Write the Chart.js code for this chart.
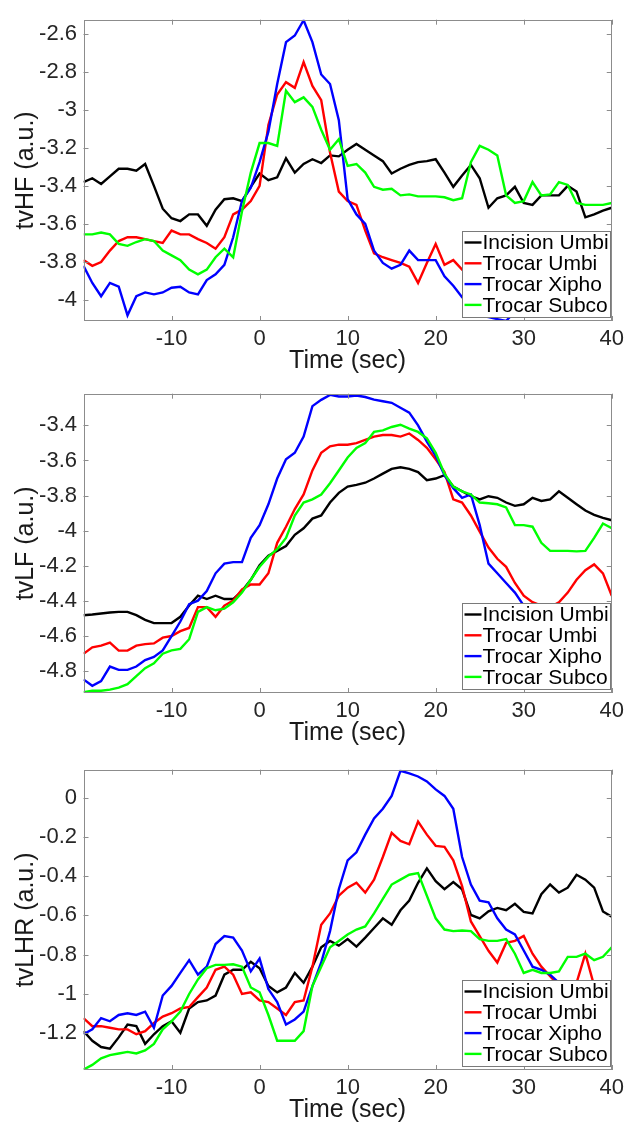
<!DOCTYPE html>
<html>
<head>
<meta charset="utf-8">
<script src="https://cdn.jsdelivr.net/npm/chart.js@4.4.0/dist/chart.umd.min.js"></script>
<style>
  html, body { margin: 0; padding: 0; background: #ffffff; }
  body { width: 629px; height: 1123px; position: relative; overflow: hidden; }
  canvas { position: absolute; left: 0; }
</style>
</head>
<body>
<canvas id="hfChart" width="629" height="376" style="top:0px"></canvas>
<canvas id="lfChart" width="629" height="374" style="top:374px"></canvas>
<canvas id="lhrChart" width="629" height="375" style="top:750px"></canvas>
<script>
// time axis (sec)
const times = [-20, -19, -18, -17, -16, -15, -14, -13, -12, -11, -10, -9, -8, -7, -6, -5, -4, -3, -2, -1,
  0, 1, 2, 3, 4, 5, 6, 7, 8, 9, 10, 11, 12, 13, 14, 15, 16, 17, 18, 19, 20, 21, 22, 23, 24, 25, 26, 27, 28, 29,
  30, 31, 32, 33, 34, 35, 36, 37, 38, 39, 40];
const xTicks = [-10, 0, 10, 20, 30, 40];
const seriesNames = ['Incision Umbi', 'Trocar Umbi', 'Trocar Xipho', 'Trocar Subco'];
const seriesColors = ['#000000', '#ff0000', '#0000ff', '#00ff00'];

// tvHF
const hfIncision = [-3.38, -3.36, -3.39, -3.35, -3.31, -3.31, -3.32, -3.285, -3.40, -3.52, -3.57, -3.585, -3.55, -3.55, -3.61, -3.525, -3.47, -3.465, -3.48, -3.405,
  -3.335, -3.37, -3.355, -3.255, -3.33, -3.285, -3.26, -3.28, -3.24, -3.245, -3.21, -3.18, -3.21, -3.24, -3.27, -3.335, -3.31, -3.29, -3.275, -3.27,
  -3.26, -3.33, -3.405, -3.345, -3.29, -3.36, -3.515, -3.465, -3.45, -3.405, -3.49, -3.50, -3.45, -3.45, -3.45, -3.40, -3.43, -3.565, -3.55, -3.53, -3.515];
const hfUmbi = [-3.79, -3.82, -3.80, -3.74, -3.69, -3.67, -3.67, -3.68, -3.69, -3.70, -3.635, -3.655, -3.655, -3.68, -3.70, -3.73, -3.67, -3.55, -3.525, -3.48,
  -3.40, -3.08, -2.92, -2.855, -2.885, -2.75, -2.875, -2.95, -3.225, -3.43, -3.48, -3.50, -3.635, -3.755, -3.775, -3.79, -3.805, -3.825, -3.91, -3.805,
  -3.705, -3.815, -3.79, -3.84, -3.88, -3.92, -3.95, -3.98, -4.00, -3.97, -3.93, -3.90, -3.92, -3.88, -3.85, -3.82, -3.80, -3.78, -3.75, -3.72, -3.72];
const hfXipho = [-3.82, -3.91, -3.98, -3.91, -3.93, -4.08, -3.98, -3.96, -3.97, -3.96, -3.935, -3.93, -3.96, -3.97, -3.895, -3.865, -3.815, -3.67, -3.48, -3.41,
  -3.275, -3.115, -2.865, -2.645, -2.61, -2.53, -2.645, -2.815, -2.865, -3.055, -3.47, -3.55, -3.60, -3.74, -3.805, -3.835, -3.815, -3.74, -3.79, -3.79,
  -3.79, -3.875, -3.925, -3.985, -4.03, -4.08, -4.09, -4.10, -4.11, -4.06, -4.00, -3.96, -3.93, -3.90, -3.88, -3.87, -3.86, -3.85, -3.83, -3.82, -3.94];
const hfSubco = [-3.655, -3.655, -3.645, -3.655, -3.705, -3.715, -3.695, -3.68, -3.69, -3.74, -3.765, -3.79, -3.84, -3.865, -3.84, -3.775, -3.73, -3.775, -3.535, -3.33,
  -3.175, -3.175, -3.19, -2.90, -2.96, -2.935, -2.985, -3.105, -3.21, -3.155, -3.295, -3.285, -3.33, -3.405, -3.42, -3.415, -3.45, -3.445, -3.455, -3.455,
  -3.455, -3.46, -3.475, -3.465, -3.275, -3.19, -3.21, -3.24, -3.45, -3.49, -3.48, -3.38, -3.45, -3.445, -3.38, -3.395, -3.49, -3.50, -3.50, -3.50, -3.49];

// tvLF
const lfIncision = [-4.483, -4.479, -4.473, -4.468, -4.464, -4.464, -4.483, -4.51, -4.528, -4.528, -4.528, -4.492, -4.428, -4.372, -4.391, -4.372, -4.391, -4.391, -4.345, -4.281,
  -4.198, -4.143, -4.116, -4.088, -4.024, -3.987, -3.932, -3.914, -3.84, -3.785, -3.749, -3.739, -3.727, -3.703, -3.675, -3.648, -3.639, -3.648, -3.666, -3.712,
  -3.703, -3.684, -3.749, -3.776, -3.804, -3.822, -3.804, -3.813, -3.84, -3.859, -3.85, -3.813, -3.831, -3.822, -3.776, -3.813, -3.85, -3.886, -3.91, -3.928, -3.941];
const lfUmbi = [-4.703, -4.666, -4.657, -4.639, -4.685, -4.685, -4.657, -4.648, -4.644, -4.611, -4.602, -4.574, -4.556, -4.437, -4.437, -4.492, -4.428, -4.40, -4.336, -4.308,
  -4.308, -4.244, -4.07, -3.978, -3.877, -3.794, -3.657, -3.556, -3.519, -3.51, -3.51, -3.501, -3.483, -3.464, -3.455, -3.455, -3.464, -3.446, -3.483, -3.528,
  -3.593, -3.666, -3.822, -3.84, -3.914, -4.006, -4.097, -4.161, -4.207, -4.299, -4.372, -4.409, -4.428, -4.437, -4.409, -4.354, -4.281, -4.226, -4.193, -4.244, -4.372];
const lfXipho = [-4.85, -4.886, -4.859, -4.776, -4.795, -4.795, -4.776, -4.739, -4.721, -4.684, -4.602, -4.519, -4.42, -4.40, -4.345, -4.244, -4.189, -4.18, -4.18, -4.042,
  -3.969, -3.85, -3.703, -3.593, -3.556, -3.464, -3.29, -3.254, -3.226, -3.235, -3.235, -3.229, -3.238, -3.253, -3.262, -3.271, -3.299, -3.327, -3.40, -3.492,
  -3.574, -3.684, -3.758, -3.813, -3.794, -3.969, -4.189, -4.244, -4.299, -4.354, -4.428, -4.48, -4.52, -4.55, -4.57, -4.58, -4.56, -4.53, -4.49, -4.44, -4.44];
const lfSubco = [-4.923, -4.914, -4.914, -4.908, -4.896, -4.877, -4.831, -4.785, -4.758, -4.703, -4.684, -4.675, -4.62, -4.464, -4.437, -4.455, -4.446, -4.409, -4.354, -4.281,
  -4.207, -4.149, -4.106, -4.042, -3.914, -3.84, -3.822, -3.794, -3.73, -3.657, -3.583, -3.528, -3.501, -3.437, -3.428, -3.409, -3.396, -3.418, -3.437, -3.473,
  -3.556, -3.675, -3.749, -3.776, -3.794, -3.84, -3.844, -3.85, -3.868, -3.969, -3.969, -3.978, -4.07, -4.116, -4.116, -4.116, -4.119, -4.116, -4.042, -3.96, -3.987];

// tvLHR
const lhrIncision = [-1.189, -1.238, -1.27, -1.279, -1.221, -1.156, -1.164, -1.254, -1.205, -1.164, -1.139, -1.197, -1.074, -1.041, -1.033, -1.008, -0.902, -0.877, -0.877, -0.836,
  -0.869, -0.959, -0.992, -0.967, -0.893, -0.943, -0.861, -0.762, -0.73, -0.754, -0.721, -0.759, -0.713, -0.664, -0.615, -0.648, -0.574, -0.525, -0.434, -0.361,
  -0.426, -0.467, -0.43, -0.467, -0.598, -0.615, -0.579, -0.562, -0.574, -0.541, -0.582, -0.59, -0.492, -0.443, -0.484, -0.459, -0.393, -0.418, -0.459, -0.58, -0.607];
const lhrUmbi = [-1.123, -1.164, -1.164, -1.172, -1.18, -1.18, -1.205, -1.189, -1.148, -1.115, -1.098, -1.074, -1.066, -1.016, -0.967, -0.877, -0.861, -0.902, -1.00, -0.992,
  -1.033, -1.041, -1.074, -1.107, -1.041, -1.033, -0.861, -0.648, -0.59, -0.50, -0.459, -0.434, -0.484, -0.418, -0.303, -0.18, -0.221, -0.238, -0.123, -0.189,
  -0.246, -0.251, -0.32, -0.451, -0.631, -0.705, -0.78, -0.84, -0.74, -0.73, -0.705, -0.795, -0.861, -0.91, -0.959, -0.992, -0.943, -0.795, -0.959, -1.00, -1.107];
const lhrXipho = [-1.205, -1.18, -1.123, -1.139, -1.107, -1.098, -1.107, -1.09, -1.172, -1.008, -0.959, -0.893, -0.828, -0.902, -0.861, -0.746, -0.705, -0.713, -0.779, -0.885,
  -0.82, -0.975, -1.041, -1.156, -1.13, -1.09, -0.96, -0.84, -0.68, -0.467, -0.32, -0.279, -0.189, -0.107, -0.057, 0.008, 0.136, 0.123, 0.107, 0.082,
  0.041, 0.008, -0.057, -0.303, -0.443, -0.525, -0.533, -0.615, -0.672, -0.697, -0.779, -0.861, -0.877, -0.902, -0.943, -0.98, -1.03, -1.08, -1.14, -1.20, -1.24];
const lhrSubco = [-1.385, -1.361, -1.328, -1.311, -1.303, -1.295, -1.303, -1.287, -1.254, -1.18, -1.139, -1.09, -1.00, -0.926, -0.869, -0.852, -0.852, -0.849, -0.861, -0.967,
  -0.992, -1.107, -1.238, -1.238, -1.238, -1.189, -0.959, -0.861, -0.762, -0.73, -0.697, -0.672, -0.656, -0.59, -0.516, -0.443, -0.418, -0.393, -0.385, -0.50,
  -0.615, -0.672, -0.68, -0.677, -0.68, -0.721, -0.73, -0.73, -0.721, -0.795, -0.893, -0.877, -0.893, -0.893, -0.885, -0.811, -0.811, -0.795, -0.828, -0.811, -0.762];

const FONT = '"Liberation Sans", Arial, Helvetica, sans-serif';

// box, inward ticks and legend drawn like a MATLAB axes
const matlabAxes = {
  id: 'matlabAxes',
  afterDraw(chart) {
    const { ctx, chartArea: a, scales: { x, y } } = chart;
    ctx.save();
    ctx.strokeStyle = '#8c8c8c';
    ctx.lineWidth = 1;
    ctx.beginPath();
    xTicks.forEach(v => {
      const px = Math.round(x.getPixelForValue(v)) + 0.5;
      ctx.moveTo(px, a.bottom); ctx.lineTo(px, a.bottom - 5);
      ctx.moveTo(px, a.top); ctx.lineTo(px, a.top + 5);
    });
    y.ticks.forEach(t => {
      const py = Math.round(y.getPixelForValue(t.value)) + 0.5;
      ctx.moveTo(a.left, py); ctx.lineTo(a.left + 5, py);
      ctx.moveTo(a.right, py); ctx.lineTo(a.right - 5, py);
    });
    ctx.stroke();
    ctx.strokeRect(Math.round(a.left) + 0.5, Math.round(a.top) + 0.5,
      Math.round(a.right - a.left) - 1, Math.round(a.bottom - a.top) - 1);

    // legend
    const lx = 462.5, lw = 148, lh = 86;
    const ly = Math.round(a.bottom) - 4 - lh + 0.5;
    ctx.fillStyle = '#ffffff';
    ctx.fillRect(lx, ly, lw, lh);
    ctx.strokeStyle = '#7a7a7a';
    ctx.strokeRect(lx, ly, lw, lh);
    ctx.font = '21px ' + FONT;
    ctx.textBaseline = 'middle';
    ctx.textAlign = 'left';
    seriesNames.forEach((name, i) => {
      const cy = ly + 11 + i * 20.8;
      ctx.strokeStyle = seriesColors[i];
      ctx.lineWidth = 2.4;
      ctx.beginPath();
      ctx.moveTo(lx + 2, cy); ctx.lineTo(lx + 19, cy);
      ctx.stroke();
      ctx.fillStyle = '#000000';
      ctx.fillText(name, lx + 20, cy + 1);
    });
    ctx.restore();
  }
};

function makePanel(id, yTitle, seriesList, yMin, yMax, padTop) {
  const datasets = seriesList.map((vals, i) => ({
    label: seriesNames[i],
    data: times.map((t, k) => ({ x: t, y: vals[k] })),
    borderColor: seriesColors[i],
    borderWidth: 2.4,
    pointRadius: 0,
    tension: 0,
    fill: false,
    clip: 0,
    order: 4 - i
  }));

  return new Chart(document.getElementById(id), {
    type: 'line',
    data: { datasets },
    options: {
      responsive: false,
      animation: false,
      devicePixelRatio: 1,
      layout: { padding: { left: 0, right: 13.3, top: padTop, bottom: 0 } },
      plugins: { legend: { display: false }, tooltip: { enabled: false } },
      scales: {
        x: {
          type: 'linear',
          min: -20,
          max: 40,
          grid: { display: false, drawTicks: false },
          border: { display: false },
          ticks: {
            stepSize: 10,
            autoSkip: false,
            maxRotation: 0,
            padding: 5,
            color: '#262626',
            font: { family: FONT, size: 22 },
            callback: v => (v === -20 ? '' : v)
          },
          title: {
            display: true,
            text: 'Time (sec)',
            color: '#1a1a1a',
            font: { family: FONT, size: 25 },
            padding: { top: 0, bottom: 0 }
          },
          afterFit: s => { s.height = 55; }
        },
        y: {
          min: yMin,
          max: yMax,
          grid: { display: false, drawTicks: false },
          border: { display: false },
          ticks: {
            stepSize: 0.2,
            includeBounds: false,
            padding: 6.5,
            color: '#262626',
            font: { family: FONT, size: 22 },
            callback: v => String(Math.round(v * 10) / 10)
          },
          title: {
            display: true,
            text: yTitle,
            color: '#1a1a1a',
            font: { family: FONT, size: 25 },
            padding: { top: 11, bottom: 0 }
          },
          afterFit: s => { s.width = 83.5; }
        }
      }
    },
    plugins: [matlabAxes]
  });
}

document.addEventListener('DOMContentLoaded', function () {
  makePanel('hfChart', 'tvHF (a.u.)', [hfIncision, hfUmbi, hfXipho, hfSubco], -4.11, -2.527, 10.7);
  makePanel('lfChart', 'tvLF (a.u.)', [lfIncision, lfUmbi, lfXipho, lfSubco], -4.927, -3.219, 10);
  makePanel('lhrChart', 'tvLHR (a.u.)', [lhrIncision, lhrUmbi, lhrXipho, lhrSubco], -1.387, 0.1415, 10);
});
</script>
</body>
</html>
